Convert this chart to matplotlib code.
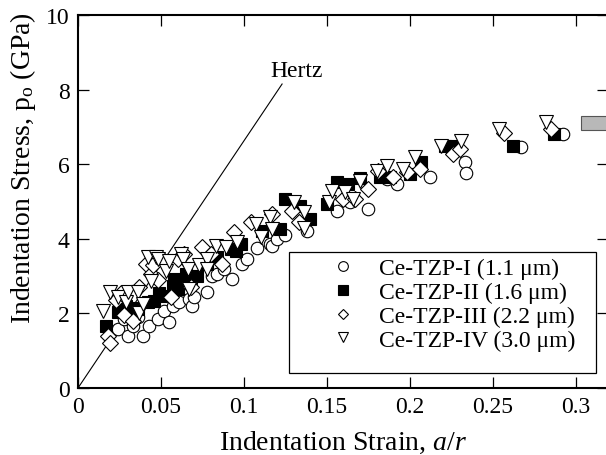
import matplotlib
matplotlib.use("Agg")
import matplotlib.pyplot as plt
from matplotlib.lines import Line2D
from matplotlib.patches import Rectangle

plt.rcParams['font.family'] = ['Liberation Serif', 'DejaVu Serif']
plt.rcParams['mathtext.fontset'] = 'custom'
plt.rcParams['mathtext.rm'] = 'Liberation Serif'
plt.rcParams['mathtext.it'] = 'Liberation Serif:italic'

# Ce-TZP-I (circles)
x_I = [0.024, 0.028, 0.030, 0.033, 0.036, 0.039, 0.043, 0.048, 0.052, 0.055, 0.057, 0.060,
       0.061, 0.067, 0.069, 0.070, 0.0775, 0.081, 0.084, 0.088, 0.093, 0.099, 0.102, 0.108,
       0.116, 0.117, 0.120, 0.125, 0.138, 0.156, 0.164, 0.175, 0.186, 0.192, 0.212, 0.233,
       0.234, 0.267, 0.292]
y_I = [1.58, 1.85, 1.40, 1.67, 1.90, 1.40, 1.67, 1.85, 2.06, 1.77, 2.20, 2.44,
       2.30, 2.39, 2.21, 2.45, 2.57, 3.01, 3.06, 3.20, 2.92, 3.32, 3.47, 3.75,
       3.86, 3.82, 4.00, 4.10, 4.22, 4.75, 4.98, 4.80, 5.60, 5.47, 5.66, 6.06,
       5.76, 6.45, 6.81]

# Ce-TZP-II (filled squares)
x_II = [0.017, 0.024, 0.029, 0.033, 0.036, 0.042, 0.046, 0.050, 0.049, 0.057, 0.058, 0.060,
        0.061, 0.065, 0.068, 0.0715, 0.078, 0.084, 0.092, 0.0955, 0.098, 0.111, 0.122, 0.125,
        0.134, 0.140, 0.150, 0.156, 0.163, 0.170, 0.182, 0.188, 0.200, 0.207, 0.221, 0.225,
        0.262, 0.287]
y_II = [1.65, 2.04, 2.20, 2.14, 2.12, 2.30, 2.34, 2.47, 2.55, 2.74, 2.92, 2.65,
        2.88, 3.05, 2.95, 3.01, 3.33, 3.51, 3.73, 3.68, 3.86, 4.22, 4.26, 5.07,
        4.89, 4.53, 4.93, 5.51, 5.47, 5.63, 5.66, 5.66, 5.74, 6.06, 6.50, 6.50,
        6.50, 6.81]

# Ce-TZP-III (diamonds)
x_III = [0.018, 0.019, 0.023, 0.026, 0.028, 0.033, 0.037, 0.041, 0.044, 0.045, 0.048, 0.052,
         0.056, 0.060, 0.064, 0.068, 0.075, 0.080, 0.087, 0.094, 0.104, 0.117, 0.129, 0.133,
         0.160, 0.167, 0.175, 0.181, 0.190, 0.198, 0.206, 0.226, 0.230, 0.257, 0.285]
y_III = [1.39, 1.20, 2.35, 2.55, 1.97, 1.80, 2.70, 3.32, 3.05, 3.30, 2.90, 3.40,
         2.45, 3.45, 3.60, 2.70, 3.78, 3.60, 3.32, 4.18, 4.45, 4.66, 4.75, 4.45,
         5.07, 5.07, 5.34, 5.83, 5.66, 5.80, 5.87, 6.27, 6.40, 6.83, 6.94]

# Ce-TZP-IV (triangles)
x_IV = [0.015, 0.019, 0.024, 0.029, 0.030, 0.036, 0.037, 0.039, 0.042, 0.044, 0.047, 0.048,
        0.053, 0.055, 0.062, 0.063, 0.066, 0.067, 0.073, 0.078, 0.078, 0.083, 0.089, 0.096,
        0.107, 0.110, 0.116, 0.117, 0.130, 0.136, 0.136, 0.151, 0.153, 0.161, 0.166, 0.170,
        0.180, 0.186, 0.196, 0.203, 0.219, 0.231, 0.254, 0.282]
y_IV = [2.07, 2.57, 2.43, 2.30, 2.57, 2.57, 2.00, 2.25, 3.51, 2.88, 3.51, 3.46,
        3.15, 3.41, 3.59, 3.46, 3.19, 2.66, 3.30, 3.46, 3.19, 3.81, 3.78, 3.91,
        4.40, 4.04, 4.58, 4.26, 5.00, 4.72, 4.29, 5.00, 5.29, 5.25, 5.07, 5.55,
        5.83, 5.96, 5.87, 6.19, 6.50, 6.63, 6.94, 7.12]

labels = ["Ce-TZP-I (1.1 μm)", "Ce-TZP-II (1.6 μm)",
          "Ce-TZP-III (2.2 μm)", "Ce-TZP-IV (3.0 μm)"]

hertz_x = [0, 0.123]
hertz_y = [0, 8.15]

xticks = [0, 0.05, 0.1, 0.15, 0.2, 0.25, 0.3]
xticklabels = ["0", "0.05", "0.1", "0.15", "0.2", "0.25", "0.3"]
yticks = [0, 2, 4, 6, 8, 10]

fig = plt.figure(figsize=(6.06, 4.56), dpi=100)
ax = fig.add_axes([0.1287, 0.1469, 1.003 - 0.1287, 0.9649 - 0.1469])

ax.plot(hertz_x, hertz_y, color='black', lw=0.8)
ax.text(0.116, 8.5, "Hertz", fontsize=17, ha='left', va='center')

ax.plot(x_I, y_I, 'o', ms=9, mfc='white', mec='black', mew=0.8, ls='none')
ax.plot(x_II, y_II, 's', ms=8.5, mfc='black', mec='black', mew=0.8, ls='none')
ax.plot(x_III, y_III, 'D', ms=8, mfc='white', mec='black', mew=0.8, ls='none')
ax.plot(x_IV, y_IV, 'v', ms=10, mfc='white', mec='black', mew=0.8, ls='none')

ax.add_patch(Rectangle((0.303, 6.92), 0.03, 0.37, facecolor='#b8b8b8',
                       edgecolor='#555555', lw=0.8))

ax.set_xlim(0, 0.3193)
ax.set_ylim(0, 10)
ax.set_xticks(xticks)
ax.set_xticklabels(xticklabels)
ax.set_yticks(yticks)
ax.tick_params(direction='in', length=8, width=0.9, labelsize=17, pad=6,
               top=True, right=True)
for s in ax.spines.values():
    s.set_linewidth(1.5)

ax.set_xlabel("Indentation Strain, $a/r$", fontsize=20, labelpad=8)
ax.set_ylabel("Indentation Stress, p$_\\mathrm{o}$ (GPa)", fontsize=20)
ax.yaxis.set_label_coords(-0.075, 0.593)

# legend box
ax.add_patch(Rectangle((0.398, 0.040), 0.579, 0.325, transform=ax.transAxes,
                       facecolor='white', edgecolor='black', lw=0.9, zorder=5))
handles = [
    Line2D([], [], marker='o', ms=7, mfc='white', mec='black', mew=0.8, ls='none'),
    Line2D([], [], marker='s', ms=7, mfc='black', mec='black', mew=0.8, ls='none'),
    Line2D([], [], marker='D', ms=5.5, mfc='white', mec='black', mew=0.8, ls='none'),
    Line2D([], [], marker='v', ms=7.5, mfc='white', mec='black', mew=0.8, ls='none'),
]
leg = ax.legend(handles, labels, loc='upper left', bbox_to_anchor=(0.466, 0.35),
                frameon=False, fontsize=17, handlelength=1.5, handletextpad=0.8,
                labelspacing=0.1, borderaxespad=0, borderpad=0)
leg.set_zorder(6)

fig.savefig("out.png", dpi=100)
